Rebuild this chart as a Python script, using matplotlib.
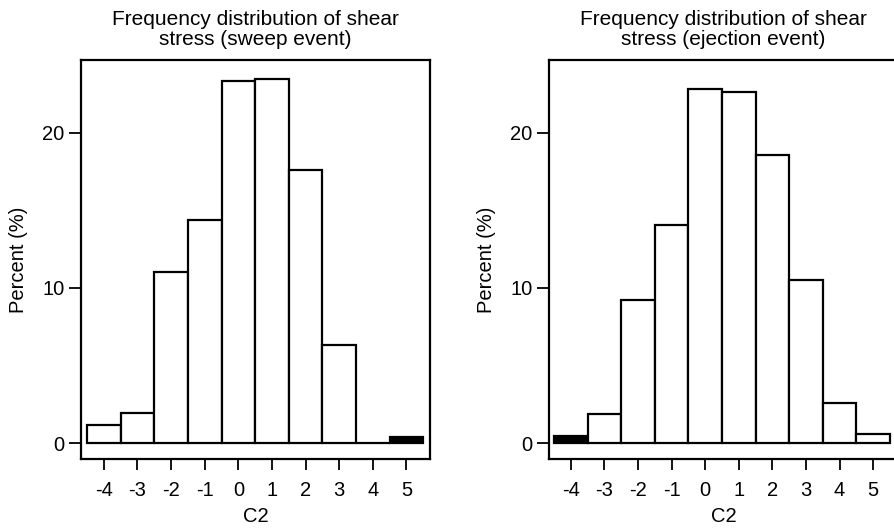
import matplotlib
matplotlib.use('Agg')
from matplotlib import pyplot as plt
import numpy as np

plt.rcParams['font.family'] = ['Liberation Sans', 'DejaVu Sans']

# C2 classes and percentages
c2_classes    = [-4, -3, -2, -1, 0, 1, 2, 3, 4, 5]
sweep_pct     = [1.15, 1.95, 11.0, 14.4, 23.35, 23.45, 17.6, 6.3, 0.0, 0.4]
ejection_pct  = [0.45, 1.85, 9.25, 14.05, 22.8, 22.65, 18.6, 10.5, 2.6, 0.6]
# classes drawn solid black in the original
sweep_black    = [5]
ejection_black = [-4]

titles   = ['Frequency distribution of shear\nstress (sweep event)',
            'Frequency distribution of shear\nstress (ejection event)']
y_ticks  = [0, 10, 20]

title_size = 15
label_size = 14.5
tick_size  = 14.5
edgewidth  = 1.6

f = plt.figure(figsize=(8.94, 5.30), dpi=100)
ax1 = f.add_axes([0.0906, 0.134, 0.3904, 0.7528])
ax2 = f.add_axes([0.6141, 0.134, 0.3904, 0.7528])

panels = [(ax1, sweep_pct, sweep_black, titles[0], (-4.68, 5.70)),
          (ax2, ejection_pct, ejection_black, titles[1], (-4.65, 5.74))]

for ax, pct, black, title, xlim in panels:
    colors = ['black' if c in black else 'white' for c in c2_classes]
    ax.bar(c2_classes, pct, width=1.0, color=colors, edgecolor='black',
           linewidth=edgewidth, zorder=3)
    ax.set_xlim(*xlim)
    ax.set_ylim(-1.03, 24.7)
    ax.set_xticks(c2_classes)
    ax.set_xticklabels([str(c) for c in c2_classes])
    ax.set_yticks(y_ticks)
    ax.tick_params(axis='both', direction='out', length=9, width=1.3,
                   labelsize=tick_size, pad=3)
    ax.tick_params(axis='x', length=8, pad=8)
    ax.set_xlabel('C2', fontsize=label_size, labelpad=5)
    ax.set_ylabel('Percent (%)', fontsize=label_size, labelpad=10)
    ax.set_title(title, fontsize=title_size, pad=11, linespacing=1.05)
    for s in ['top', 'bottom', 'left', 'right']:
        ax.spines[s].set_linewidth(1.6)

f.savefig('out.png', dpi=100)
